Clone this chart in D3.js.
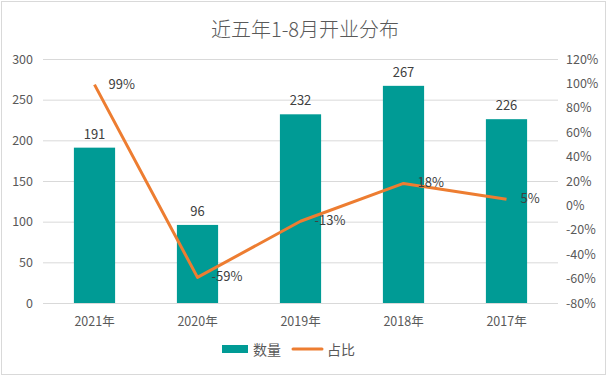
<!DOCTYPE html>
<html>
<head>
<meta charset="utf-8">
<script src="https://cdn.jsdelivr.net/npm/d3@7"></script>
<style>
  body { margin: 0; background: #fff; }
  svg text { font-family: "Noto Sans CJK SC", "Noto Sans", sans-serif; fill: #595959; }
</style>
</head>
<body>
<main></main>
<script>
// 数据
const anyos = ['2021年', '2020年', '2019年', '2018年', '2017年'];
const cantidad = [191, 96, 232, 267, 226];          // 数量
const ratio = [99, -59, -13, 18, 5];                // 占比 (%)
const ticksIzq = [0, 50, 100, 150, 200, 250, 300];
const ticksDer = [-80, -60, -40, -20, 0, 20, 40, 60, 80, 100, 120];

const [w, h] = [609, 377];
const m = { left: 43, right: 558, top: 59, bottom: 303 };

const svg = d3.select('main').append('svg')
    .attr('width', w)
    .attr('height', h);

// borde del gráfico
svg.append('rect')
    .attr('x', 1.5).attr('y', 1.5)
    .attr('width', w - 5).attr('height', h - 4)
    .attr('fill', '#fff')
    .attr('stroke', '#d9d9d9');

// título
svg.append('text')
    .attr('x', 305).attr('y', 37)
    .attr('text-anchor', 'middle')
    .style('font-size', '20px')
    .style('font-weight', 300)
    .text('近五年1-8月开业分布');

// escalas
const xScale = d3.scaleBand()
    .domain(anyos)
    .range([m.left, m.right])
    .paddingInner(0.6)
    .paddingOuter(0.3);

const yIzq = d3.scaleLinear().domain([0, 300]).range([m.bottom, m.top]);
const yDer = d3.scaleLinear().domain([-80, 120]).range([m.bottom, m.top]);

// rejilla
svg.append('g')
    .selectAll('line')
    .data(ticksIzq)
    .enter()
    .append('line')
    .attr('x1', m.left).attr('x2', m.right)
    .attr('y1', d => yIzq(d) + 0.5).attr('y2', d => yIzq(d) + 0.5)
    .attr('stroke', '#d9d9d9');

// eje izquierdo
const ejeIzq = d3.axisLeft(yIzq).tickValues(ticksIzq).tickSize(0).tickPadding(10);
svg.append('g')
    .attr('transform', 'translate(' + m.left + ',0)')
    .call(ejeIzq)
    .call(g => g.select('.domain').remove())
    .selectAll('text')
    .style('font-size', '12.5px');

// eje derecho
const ejeDer = d3.axisRight(yDer).tickValues(ticksDer).tickSize(0).tickPadding(8)
    .tickFormat(d => d + '%');
svg.append('g')
    .attr('transform', 'translate(' + m.right + ',0)')
    .call(ejeDer)
    .call(g => g.select('.domain').remove())
    .selectAll('text')
    .style('font-size', '12.5px');

// eje X
const ejeX = d3.axisBottom(xScale).tickSize(0).tickPadding(14);
svg.append('g')
    .attr('transform', 'translate(0,' + m.bottom + ')')
    .call(ejeX)
    .call(g => g.select('.domain').remove())
    .selectAll('text')
    .style('font-size', '12.5px');

// barras
svg.selectAll('rect.bar')
    .data(cantidad)
    .enter()
    .append('rect')
    .attr('class', 'bar')
    .attr('x', (d, i) => xScale(anyos[i]))
    .attr('y', d => yIzq(d))
    .attr('width', xScale.bandwidth())
    .attr('height', d => yIzq(0) - yIzq(d))
    .attr('fill', '#009B95');

svg.selectAll('text.bar-label')
    .data(cantidad)
    .enter()
    .append('text')
    .attr('class', 'bar-label')
    .attr('x', (d, i) => xScale(anyos[i]) + xScale.bandwidth() / 2)
    .attr('y', d => yIzq(d) - 9)
    .attr('text-anchor', 'middle')
    .style('font-size', '13px')
    .style('fill', '#404040')
    .text(d => d);

// línea
const cx = i => xScale(anyos[i]) + xScale.bandwidth() / 2;
const linea = d3.line()
    .x((d, i) => cx(i))
    .y(d => yDer(d));

svg.append('path')
    .datum(ratio)
    .attr('d', linea)
    .attr('fill', 'none')
    .attr('stroke', '#ED7D31')
    .attr('stroke-width', 3)
    .attr('stroke-linejoin', 'round');

svg.selectAll('text.line-label')
    .data(ratio)
    .enter()
    .append('text')
    .attr('class', 'line-label')
    .attr('x', (d, i) => cx(i) + 14)
    .attr('y', d => yDer(d) + 4)
    .style('font-size', '13px')
    .style('fill', '#404040')
    .text(d => d + '%');

// leyenda
const ley = svg.append('g');
ley.append('rect')
    .attr('x', 222).attr('y', 345)
    .attr('width', 26).attr('height', 8)
    .attr('fill', '#009B95');
ley.append('text')
    .attr('x', 253).attr('y', 355)
    .style('font-size', '14px')
    .text('数量');
ley.append('line')
    .attr('x1', 293).attr('x2', 322)
    .attr('y1', 349).attr('y2', 349)
    .attr('stroke', '#ED7D31')
    .attr('stroke-width', 3)
    .attr('stroke-linecap', 'round');
ley.append('text')
    .attr('x', 327).attr('y', 355)
    .style('font-size', '14px')
    .text('占比');
</script>
</body>
</html>
